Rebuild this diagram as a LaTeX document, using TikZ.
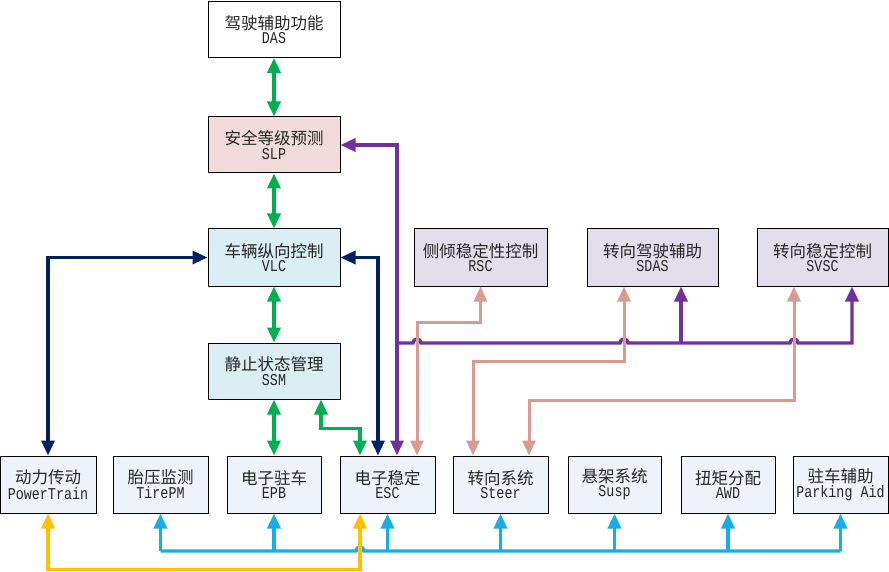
\documentclass[tikz,border=0pt]{standalone}
\usepackage{fontspec}
\setmonofont{Liberation Mono}
\newfontfamily\cjk{Noto Sans CJK SC}
\usepackage{tikz}
\usetikzlibrary{arrows.meta,calc}
\definecolor{ink}{HTML}{262626}
\definecolor{fgreen}{HTML}{00B050}
\definecolor{fnavy}{HTML}{002060}
\definecolor{fpurple}{HTML}{7030A0}
\definecolor{fpink}{HTML}{D99A94}
\definecolor{fblue}{HTML}{17ADE6}
\definecolor{fyellow}{HTML}{FFC000}
\definecolor{slpbg}{HTML}{F2DCDB}
\definecolor{ctrlbg}{HTML}{DAEEF3}
\definecolor{latbg}{HTML}{E2DEEC}
\definecolor{unitbg}{HTML}{EEF2FA}
\newcommand{\fnlabel}[2]{{\cjk\fontsize{16.5}{21}\selectfont #1}\\[1pt]{\ttfamily\fontsize{16.5}{21}\selectfont\scalebox{0.81}[1]{#2}}}
\tikzset{
  funcbox/.style={
    draw=black,
    line width=1pt,
    minimum width=132pt,
    minimum height=56pt,
    align=center,
    text=ink,
    inner sep=2pt
  },
  topbox/.style={funcbox, fill=white},
  slpbox/.style={funcbox, fill=slpbg},
  ctrlbox/.style={funcbox, fill=ctrlbg},
  latbox/.style={funcbox, fill=latbg},
  unitbox/.style={funcbox, fill=unitbg, minimum width=95pt, minimum height=57pt},
  link/.style={line width=3.4pt},
  greenlink/.style={link, draw=fgreen},
  navylink/.style={link, draw=fnavy},
  purplelink/.style={link, draw=fpurple},
  pinklink/.style={link, line width=3pt, draw=fpink},
  bluelink/.style={link, draw=fblue},
  yellowlink/.style={link, draw=fyellow}
}

\begin{document}
\begin{tikzpicture}[x=1pt, y=-1pt, >={Triangle[length=15pt,width=13pt]}]
  \useasboundingbox (0,0) rectangle (889,572);

  % upper chain
  \node[topbox] (das) at (274,29.5) {\fnlabel{驾驶辅助功能}{DAS}};
  \node[slpbox] (slp) at (274,145) {\fnlabel{安全等级预测}{SLP}};
  \node[ctrlbox, minimum height=57pt] (vlc) at (274,257.5) {\fnlabel{车辆纵向控制}{VLC}};
  \node[ctrlbox] (ssm) at (274,371) {\fnlabel{静止状态管理}{SSM}};

  \node[latbox, minimum width=133pt, minimum height=57pt] (rsc) at (480.5,257.5) {\fnlabel{侧倾稳定性控制}{RSC}};
  \node[latbox, minimum width=131pt, minimum height=57pt] (sdas) at (652.5,257.5) {\fnlabel{转向驾驶辅助}{SDAS}};
  \node[latbox, minimum width=131pt, minimum height=57pt] (svsc) at (822.5,257.5) {\fnlabel{转向稳定控制}{SVSC}};

  % actuator row
  \node[unitbox, minimum width=96pt] (pt) at (48,484.5) {\fnlabel{动力传动}{PowerTrain}};
  \node[unitbox] (tpm) at (160.5,484.5) {\fnlabel{胎压监测}{TirePM}};
  \node[unitbox, minimum width=94pt] (epb) at (274,484.5) {\fnlabel{电子驻车}{EPB}};
  \node[unitbox] (esc) at (387.5,484.5) {\fnlabel{电子稳定}{ESC}};
  \node[unitbox] (steer) at (500.5,484.5) {\fnlabel{转向系统}{Steer}};
  \node[unitbox, minimum width=93pt] (susp) at (614.5,484.5) {\fnlabel{悬架系统}{Susp}};
  \node[unitbox, minimum width=94pt] (awd) at (728,484.5) {\fnlabel{扭矩分配}{AWD}};
  \node[unitbox] (park) at (840.5,484.5) {\fnlabel{驻车辅助}{Parking Aid}};

  % green chain
  \draw[greenlink, <->] (das) -- (slp);
  \draw[greenlink, <->] (slp) -- (vlc);
  \draw[greenlink, <->] (vlc) -- (ssm);
  \draw[greenlink, <->] (ssm) -- (epb);
  \draw[greenlink, <->] ([xshift=47pt]ssm.south) -- ++(0,29) -| ([xshift=-27.5pt]esc.north);

  % longitudinal links
  \draw[navylink, <->] (vlc.west) -| (pt.north);
  \draw[navylink, <->] (vlc.east) -| ([xshift=-9.5pt]esc.north);

  % purple bus
  \coordinate (pj) at (397,343);
  \coordinate (sdasin) at ([xshift=28.5pt]sdas.south);
  \draw[purplelink, <->] (slp.east) -| ([xshift=9.5pt]esc.north);
  \draw[purplelink, ->] (pj) -- (413,343) arc[start angle=180, end angle=0, radius=4pt]
    -- (620,343) arc[start angle=180, end angle=0, radius=4pt]
    -- (790,343) arc[start angle=180, end angle=0, radius=4pt]
    -| ([xshift=29.5pt]svsc.south);
  \draw[purplelink, ->] (sdasin |- pj) -- (sdasin);

  % pink links
  \draw[pinklink, <->] ([xshift=29.5pt]esc.north) -- ++(0,-133) -| (rsc.south);
  \draw[pinklink, <->] ([xshift=-27.5pt]steer.north) -- ++(0,-94) -| ([xshift=-28.5pt]sdas.south);
  \draw[pinklink, <->] ([xshift=28.5pt]steer.north) -- ++(0,-55) -| ([xshift=-28.5pt]svsc.south);

  % blue bus
  \coordinate (busl) at (160.5,551);
  \coordinate (busr) at (840.5,551);
  \draw[bluelink] (busl) -- (356,551) arc[start angle=180, end angle=0, radius=4pt] -- (busr);
  \foreach \n in {tpm,epb,esc,steer,susp,awd,park}
    \draw[bluelink, ->] (\n.south |- busl) -- (\n.south);

  % yellow link
  \draw[yellowlink, <->] (pt.south) -- ++(0,56) -| ([xshift=-27.5pt]esc.south);
\end{tikzpicture}
\end{document}
